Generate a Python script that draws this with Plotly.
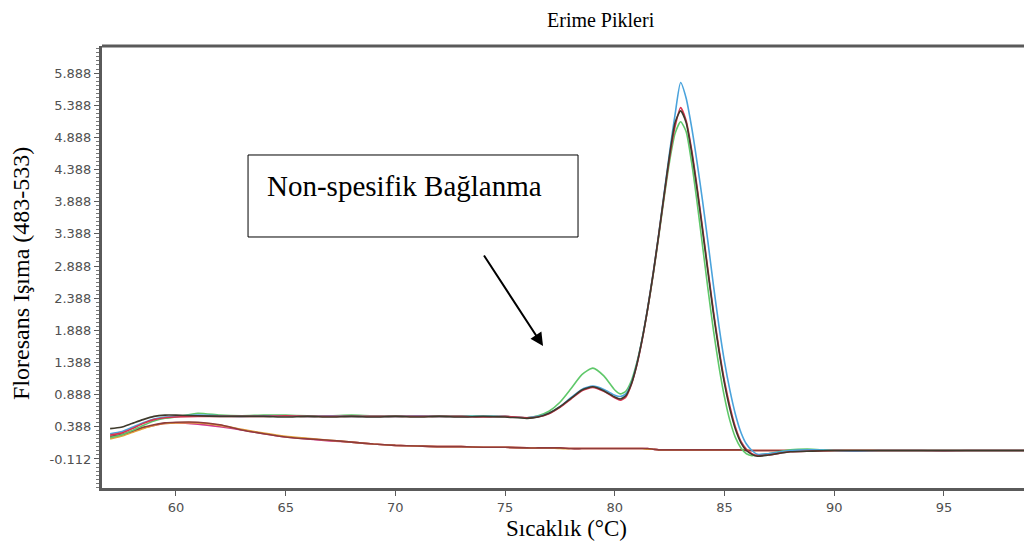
import plotly.graph_objects as go

# ---------------- data ----------------
temperature = [57, 57.5, 58, 58.5, 59, 59.5, 60,
               61, 62, 63, 64, 65, 66, 67, 68, 69, 70, 71, 72, 73, 74, 75, 76,
               76.5, 77, 77.5, 78, 78.5, 79, 79.5, 80,
               80.25, 80.5, 80.75, 81, 81.25, 81.5, 81.75, 82, 82.25, 82.5, 82.75, 83,
               83.25, 83.5, 83.75, 84, 84.25, 84.5, 84.75, 85, 85.25, 85.5, 85.75, 86,
               86.25, 86.5,
               87, 88, 89, 90, 91, 92, 93, 94, 95, 96, 97, 98, 99]

blue_sample = [0.28, 0.31, 0.38, 0.45, 0.51, 0.54, 0.55,
               0.57, 0.56, 0.55, 0.56, 0.56, 0.55, 0.56, 0.55, 0.55, 0.55, 0.56, 0.55, 0.55, 0.55, 0.55, 0.53,
               0.55, 0.60, 0.70, 0.84, 0.97, 1.02, 0.97, 0.88,
               0.86, 0.90, 1.06, 1.36, 1.76, 2.24, 2.78, 3.38, 4.02, 4.66, 5.25, 5.74,
               5.50, 5.05, 4.50, 3.90, 3.25, 2.58, 1.95, 1.40, 0.95, 0.58, 0.30, 0.12,
               0.02, -0.04,
               -0.03, 0.02, 0.03, 0.02, 0.01, 0.02, 0.02, 0.02, 0.02, 0.02, 0.02, 0.02, 0.02]

red_sample = [0.26, 0.29, 0.36, 0.44, 0.50, 0.53, 0.54,
              0.55, 0.55, 0.55, 0.55, 0.56, 0.55, 0.55, 0.55, 0.55, 0.55, 0.55, 0.55, 0.55, 0.54, 0.55, 0.53,
              0.54, 0.59, 0.69, 0.82, 0.95, 1.00, 0.94, 0.84,
              0.80, 0.85, 1.04, 1.34, 1.74, 2.22, 2.76, 3.36, 3.98, 4.58, 5.06, 5.35,
              5.15, 4.70, 4.12, 3.48, 2.82, 2.18, 1.60, 1.10, 0.70, 0.38, 0.16, 0.04,
              -0.03, -0.06,
              -0.05, 0.00, 0.01, 0.02, 0.02, 0.02, 0.02, 0.02, 0.02, 0.02, 0.02, 0.02, 0.02]

green_sample = [0.22, 0.26, 0.33, 0.41, 0.48, 0.52, 0.54,
                0.60, 0.57, 0.56, 0.57, 0.57, 0.56, 0.56, 0.57, 0.56, 0.56, 0.56, 0.56, 0.56, 0.55, 0.55, 0.53,
                0.56, 0.63, 0.77, 0.98, 1.20, 1.30, 1.18, 0.96,
                0.90, 0.94, 1.10, 1.38, 1.76, 2.22, 2.75, 3.34, 3.95, 4.52, 4.95, 5.13,
                4.98, 4.50, 3.88, 3.20, 2.52, 1.88, 1.32, 0.85, 0.48, 0.22, 0.06, -0.03,
                -0.06, -0.05,
                -0.03, 0.03, 0.04, 0.02, 0.02, 0.02, 0.02, 0.02, 0.02, 0.02, 0.02, 0.02, 0.02]

dark_sample = [0.36, 0.38, 0.44, 0.50, 0.55, 0.57, 0.57,
               0.56, 0.55, 0.55, 0.55, 0.54, 0.55, 0.54, 0.55, 0.54, 0.55, 0.54, 0.55, 0.54, 0.55, 0.54, 0.52,
               0.54, 0.60, 0.70, 0.83, 0.96, 1.01, 0.95, 0.85,
               0.82, 0.87, 1.05, 1.35, 1.75, 2.23, 2.77, 3.37, 4.00, 4.62, 5.12, 5.30,
               5.12, 4.66, 4.08, 3.44, 2.78, 2.14, 1.56, 1.06, 0.66, 0.35, 0.14, 0.02,
               -0.04, -0.07,
               -0.05, 0.00, 0.01, 0.02, 0.02, 0.02, 0.02, 0.02, 0.02, 0.02, 0.02, 0.02, 0.02]

maroon_control = [0.24, 0.27, 0.32, 0.38, 0.42, 0.45, 0.46,
                  0.46, 0.42, 0.34, 0.28, 0.23, 0.20, 0.18, 0.15, 0.12, 0.10, 0.09, 0.08, 0.08, 0.07, 0.07, 0.06,
                  0.06, 0.06, 0.06, 0.05, 0.05, 0.05, 0.05, 0.05,
                  0.05, 0.05, 0.05, 0.05, 0.05, 0.05, 0.04, 0.03, 0.03, 0.03, 0.03, 0.03,
                  0.03, 0.03, 0.03, 0.03, 0.03, 0.03, 0.03, 0.03, 0.03, 0.03, 0.03, 0.02,
                  0.02, 0.02,
                  0.02, 0.02, 0.02, 0.02, 0.02, 0.02, 0.02, 0.02, 0.02, 0.02, 0.02, 0.02, 0.02]

orange_control = [0.20, 0.24, 0.30, 0.36, 0.41, 0.44, 0.45,
                  0.45, 0.41, 0.35, 0.29, 0.24, 0.21, 0.18, 0.15, 0.12, 0.10, 0.09, 0.08, 0.08, 0.07, 0.07, 0.06,
                  0.06, 0.06, 0.05, 0.05, 0.05, 0.05, 0.05, 0.05,
                  0.05, 0.05, 0.05, 0.05, 0.05, 0.04, 0.04, 0.03, 0.03, 0.03, 0.03, 0.03,
                  0.03, 0.03, 0.03, 0.03, 0.03, 0.03, 0.03, 0.03, 0.03, 0.03, 0.03, 0.03,
                  0.02, 0.02,
                  0.02, 0.02, 0.02, 0.02, 0.02, 0.02, 0.02, 0.02, 0.02, 0.02, 0.02, 0.02, 0.02]

magenta_control = [0.22, 0.25, 0.31, 0.37, 0.41, 0.44, 0.45,
                   0.43, 0.39, 0.34, 0.28, 0.23, 0.20, 0.17, 0.15, 0.12, 0.10, 0.09, 0.08, 0.08, 0.07, 0.07, 0.06,
                   0.06, 0.06, 0.06, 0.05, 0.05, 0.05, 0.05, 0.05,
                   0.05, 0.05, 0.05, 0.05, 0.05, 0.05, 0.04, 0.03, 0.03, 0.03, 0.03, 0.03,
                   0.03, 0.03, 0.03, 0.03, 0.03, 0.03, 0.03, 0.03, 0.03, 0.03, 0.03, 0.02,
                   0.02, 0.02,
                   0.02, 0.02, 0.02, 0.02, 0.02, 0.02, 0.02, 0.02, 0.01, 0.02, 0.02, 0.02, 0.02]

y_tick_values = [-0.112, 0.388, 0.888, 1.388, 1.888, 2.388, 2.888, 3.388, 3.888, 4.388, 4.888, 5.388, 5.888]
y_tick_labels = ["-0.112", "0.388", "0.888", "1.388", "1.888", "2.388", "2.888",
                 "3.388", "3.888", "4.388", "4.888", "5.388", "5.888"]
x_tick_values = [60, 65, 70, 75, 80, 85, 90, 95]
x_tick_labels = ["60", "65", "70", "75", "80", "85", "90", "95"]

series = [
    ("magenta_control", magenta_control, "#d23a8c"),
    ("orange_control", orange_control, "#e3a33a"),
    ("maroon_control", maroon_control, "#8e3b3b"),
    ("green_sample", green_sample, "#5fc86a"),
    ("blue_sample", blue_sample, "#4aa3dc"),
    ("red_sample", red_sample, "#d8344f"),
    ("dark_sample", dark_sample, "#3e3a2c"),
]

fig = go.Figure()
for name, values, color in series:
    fig.add_trace(go.Scatter(
        x=temperature, y=values, name=name, mode="lines",
        line=dict(color=color, width=1.6, shape="spline", smoothing=0.6),
        showlegend=False, hoverinfo="skip",
    ))

serif = "Liberation Serif, Times New Roman, serif"
tick_font = dict(family="DejaVu Sans, sans-serif", size=13, color="#505050")
axis_color = "#5a5a5a"

fig.update_layout(
    width=1024, height=554,
    margin=dict(l=102, r=0, t=46, b=66),
    paper_bgcolor="white", plot_bgcolor="white",
    xaxis=dict(
        range=[56.63, 98.65], tickmode="array", tickvals=x_tick_values, ticktext=x_tick_labels,
        showgrid=False, zeroline=False, showline=True, linecolor=axis_color, linewidth=3,
        ticks="outside", ticklen=5, tickwidth=1, tickcolor=axis_color, tickfont=tick_font,
    ),
    yaxis=dict(
        range=[-0.563, 6.308], tickmode="array", tickvals=y_tick_values, ticktext=y_tick_labels,
        showgrid=False, zeroline=False, showline=True, linecolor=axis_color, linewidth=3,
        ticks="outside", ticklen=5, tickwidth=1, tickcolor=axis_color, tickfont=tick_font,
        minor=dict(tickmode="linear", tick0=-0.112, dtick=0.0625, ticks="outside",
                   ticklen=3, tickwidth=1, tickcolor="#777777"),
    ),
    shapes=[
        dict(type="line", xref="paper", yref="paper", x0=0, x1=1, y0=1, y1=1,
             line=dict(color=axis_color, width=3)),
        dict(type="rect", xref="paper", yref="paper", x0=0.1584, x1=0.5163, y0=0.5679, y1=0.7534,
             line=dict(color="black", width=1), fillcolor="white"),
    ],
    annotations=[
        dict(text="Erime Pikleri", xref="paper", yref="paper", x=0.5412, y=1.059,
             xanchor="center", yanchor="middle",
             showarrow=False, font=dict(family=serif, size=20, color="black")),
        dict(text="Sıcaklık (°C)", xref="paper", yref="paper", x=0.5043, y=-0.0905,
             xanchor="center", yanchor="middle",
             showarrow=False, font=dict(family=serif, size=23, color="black")),
        dict(text="Floresans Işıma (483-533)", xref="paper", yref="paper", x=-0.0879, y=0.4864,
             xanchor="center", yanchor="middle",
             textangle=-90, showarrow=False, font=dict(family=serif, size=24, color="black")),
        dict(text="Non-spesifik Bağlanma", xref="paper", yref="paper", x=0.1768, y=0.6833,
             xanchor="left", yanchor="middle", showarrow=False,
             font=dict(family=serif, size=29, color="black")),
        dict(x=76.73, y=1.644, xref="x", yref="y", ax=-60, ay=-92, axref="pixel", ayref="pixel",
             text="", showarrow=True, arrowhead=2, arrowsize=1.3, arrowwidth=2, arrowcolor="black"),
    ],
)

fig.write_html("out.html")
